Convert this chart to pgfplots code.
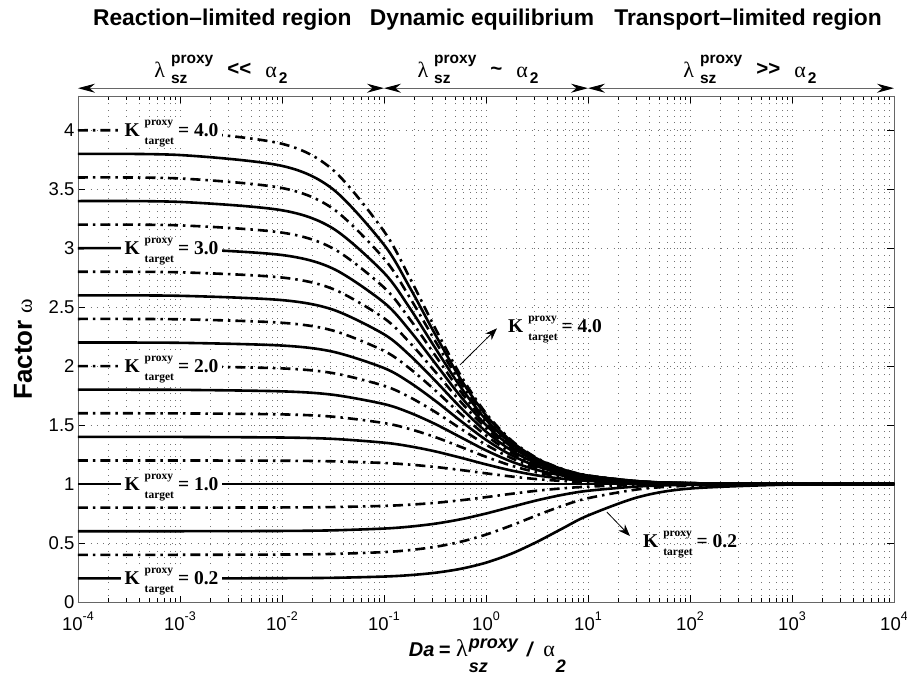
\documentclass[border=0pt]{standalone}
\usepackage{fontspec}
\setmainfont{Liberation Sans}
\newfontfamily\tnr{Liberation Serif}
\usepackage{pgfplots}
\pgfplotsset{compat=1.18}
\usepackage{pgfplotstable}
\usetikzlibrary{arrows.meta}

\pgfplotstableread{
D k02 k04 k06 k08 k10 k12 k14 k16 k18 k20 k22 k24 k26 k28 k30 k32 k34 k36 k38 k40
0.0001 0.2000 0.4000 0.6000 0.8000 1 1.2000 1.3999 1.5999 1.7999 1.9998 2.1997 2.3997 2.5996 2.7995 2.9994 3.1993 3.3992 3.5991 3.7989 3.9988
0.001 0.2002 0.4002 0.6002 0.8002 1 1.1998 1.3994 1.5990 1.7986 1.9980 2.1974 2.3966 2.5959 2.7950 2.9940 3.1930 3.3919 3.5907 3.7894 3.9880
0.01 0.2016 0.4024 0.6024 0.8016 1 1.1976 1.3945 1.5906 1.7859 1.9804 2.1742 2.3672 2.5595 2.7510 2.9417 3.1318 3.3211 3.5097 3.6975 3.8846
0.031623 0.2050 0.4075 0.6075 0.8049 1 1.1927 1.3830 1.5711 1.7569 1.9405 2.1219 2.3012 2.4784 2.6536 2.8267 2.9978 3.1670 3.3343 3.4996 3.6631
0.1 0.2157 0.4231 0.6226 0.8148 1 1.1786 1.3509 1.5172 1.6780 1.8333 1.9836 2.1290 2.2698 2.4063 2.5385 2.6667 2.7910 2.9118 3.0290 3.1429
0.17783 0.2275 0.4398 0.6386 0.8249 1 1.1648 1.3203 1.4671 1.6060 1.7377 1.8626 1.9812 2.0941 2.2017 2.3042 2.4021 2.4957 2.5852 2.6709 2.7530
0.31623 0.2476 0.4674 0.6638 0.8404 1 1.1450 1.2773 1.3984 1.5098 1.6126 1.7077 1.7959 1.8781 1.9547 2.0263 2.0935 2.1565 2.2159 2.2718 2.3246
0.56234 0.2809 0.5102 0.7009 0.8621 1 1.1194 1.2238 1.3158 1.3976 1.4707 1.5364 1.5958 1.6499 1.6992 1.7443 1.7859 1.8242 1.8597 1.8926 1.9233
1 0.3333 0.5714 0.7500 0.8889 1 1.0909 1.1667 1.2308 1.2857 1.3333 1.3750 1.4118 1.4444 1.4737 1.5000 1.5238 1.5455 1.5652 1.5833 1.6000
1.7783 0.4099 0.6494 0.8065 0.9174 1 1.0638 1.1146 1.1560 1.1904 1.2195 1.2443 1.2658 1.2845 1.3010 1.3157 1.3288 1.3406 1.3513 1.3609 1.3698
3.1623 0.5099 0.7351 0.8619 0.9433 1 1.0417 1.0737 1.0990 1.1195 1.1365 1.1508 1.1630 1.1735 1.1827 1.1907 1.1979 1.2042 1.2099 1.2151 1.2198
5.6234 0.6235 0.8153 0.9086 0.9636 1 1.0258 1.0451 1.0600 1.0719 1.0817 1.0897 1.0966 1.1024 1.1075 1.1119 1.1158 1.1193 1.1224 1.1252 1.1277
10 0.7333 0.8800 0.9429 0.9778 1 1.0154 1.0267 1.0353 1.0421 1.0476 1.0522 1.0560 1.0593 1.0621 1.0645 1.0667 1.0686 1.0703 1.0718 1.0732
31.623 0.8908 0.9560 0.9800 0.9924 1 1.0051 1.0088 1.0116 1.0138 1.0156 1.0170 1.0182 1.0192 1.0201 1.0209 1.0215 1.0221 1.0226 1.0231 1.0235
100 0.9619 0.9854 0.9934 0.9975 1 1.0017 1.0028 1.0037 1.0044 1.0050 1.0054 1.0058 1.0061 1.0064 1.0066 1.0069 1.0070 1.0072 1.0074 1.0075
1000 0.9960 0.9985 0.9993 0.9998 1 1.0002 1.0003 1.0004 1.0004 1.0005 1.0005 1.0006 1.0006 1.0006 1.0007 1.0007 1.0007 1.0007 1.0007 1.0008
10000 0.9996 0.9998 0.9999 1.0000 1 1.0000 1.0000 1.0000 1.0000 1.0000 1.0001 1.0001 1.0001 1.0001 1.0001 1.0001 1.0001 1.0001 1.0001 1.0001
}\curves

\newcommand{\supsub}[4]{%
  \begingroup
  \setbox0=\hbox{#3}\setbox2=\hbox{#4}%
  \dimen0=\wd0 \ifdim\wd2>\dimen0 \dimen0=\wd2 \fi
  \hbox to \dimen0{\rlap{\raise#1\box0}\rlap{\lower#2\box2}\hfil}%
  \endgroup}
\newcommand{\Klab}[1]{{\tnr\bfseries\fontsize{19.5}{22}\selectfont K\hspace{5pt}\supsub{11pt}{8pt}{\fontsize{11.5}{13}\selectfont proxy}{\fontsize{11.5}{13}\selectfont target}\hspace{4pt}= #1}}
\newcommand{\lamsz}{{\tnr\fontsize{22}{24}\selectfont λ}\hspace{6pt}\supsub{14pt}{6pt}{\bfseries\fontsize{15.5}{17}\selectfont proxy}{\bfseries\fontsize{15.5}{17}\selectfont sz}}
\newcommand{\alphtwo}{{\tnr\fontsize{22}{24}\selectfont α}\hspace{2pt}\raisebox{-6pt}{\bfseries\fontsize{15.5}{17}\selectfont 2}}
\newcommand{\rel}[1]{\hspace{14pt}\raisebox{1.5pt}{\bfseries\fontsize{20.5}{22}\selectfont #1}\hspace{14pt}}
\newcommand{\tp}[1]{10\raisebox{10pt}{\fontsize{12.5}{13}\selectfont #1}}

\pgfplotsset{
  solidc/.style={black, line width=2.6pt, smooth, line join=round},
  dashc/.style={solidc, dash pattern=on 10pt off 5pt on 2.5pt off 5pt},
}
\tikzset{
  klab/.style={anchor=base west, yshift=-6.5pt, fill=white, inner xsep=4pt, inner ysep=1pt},
  regarrow/.style={black!60, line width=1pt, {Stealth[black,length=17pt,width=9pt]}-{Stealth[black,length=17pt,width=9pt]}},
  ttl/.style={inner sep=0pt, font=\bfseries\fontsize{22.8}{26}\selectfont},
}

\begin{document}
\begin{tikzpicture}
\begin{axis}[
  scale only axis, width=816pt, height=506pt,
  xmode=log, xmin=1e-4, xmax=1e4, ymin=0, ymax=4.29,
  xtick={1e-4,1e-3,1e-2,1e-1,1,10,100,1000,10000},
  xticklabels={\tp{-4},\tp{-3},\tp{-2},\tp{-1},\tp{0},\tp{1},\tp{2},\tp{3},\tp{4}},
  ytick={0,0.5,1,1.5,2,2.5,3,3.5,4},
  yticklabels={0,0.5,1,1.5,2,2.5,3,3.5,4},
  tick align=inside, major tick length=7pt, minor tick length=4pt,
  tick pos=both, xticklabel pos=lower, yticklabel pos=left,
  xmajorgrids=true, xminorgrids=true, ymajorgrids=true,
  major grid style={black!55, line width=0.6pt, dash pattern=on 0.8pt off 5.5pt},
  minor grid style={black!55, line width=0.6pt, dash pattern=on 0.8pt off 5.5pt},
  axis line style={black!60, line width=0.8pt},
  every tick/.style={black, line width=0.8pt},
  tick label style={font=\fontsize{18.5}{21}\selectfont},
  xticklabel style={anchor=base, yshift=-28pt},
  clip=false,
]
\addplot[solidc] table[x=D, y=k02] {\curves};
\addplot[dashc]  table[x=D, y=k04] {\curves};
\addplot[solidc] table[x=D, y=k06] {\curves};
\addplot[dashc]  table[x=D, y=k08] {\curves};
\addplot[solidc] table[x=D, y=k10] {\curves};
\addplot[dashc]  table[x=D, y=k12] {\curves};
\addplot[solidc] table[x=D, y=k14] {\curves};
\addplot[dashc]  table[x=D, y=k16] {\curves};
\addplot[solidc] table[x=D, y=k18] {\curves};
\addplot[dashc]  table[x=D, y=k20] {\curves};
\addplot[solidc] table[x=D, y=k22] {\curves};
\addplot[dashc]  table[x=D, y=k24] {\curves};
\addplot[solidc] table[x=D, y=k26] {\curves};
\addplot[dashc]  table[x=D, y=k28] {\curves};
\addplot[solidc] table[x=D, y=k30] {\curves};
\addplot[dashc]  table[x=D, y=k32] {\curves};
\addplot[solidc] table[x=D, y=k34] {\curves};
\addplot[dashc]  table[x=D, y=k36] {\curves};
\addplot[solidc] table[x=D, y=k38] {\curves};
\addplot[dashc]  table[x=D, y=k40] {\curves};

% curve labels on the left
\node[klab] at (axis cs:2.6e-4,4) {\Klab{4.0}};
\node[klab] at (axis cs:2.6e-4,3) {\Klab{3.0}};
\node[klab] at (axis cs:2.6e-4,2) {\Klab{2.0}};
\node[klab] at (axis cs:2.6e-4,1) {\Klab{1.0}};
\node[klab] at (axis cs:2.6e-4,0.2) {\Klab{0.2}};

% annotations with arrows
\draw[black, line width=0.8pt, -{Stealth[length=12pt,width=9pt]}] (axis cs:0.556,2.01) -- (axis cs:1.28,2.32);
\node[anchor=base west, inner sep=0pt] at (axis cs:1.64,2.288) {\Klab{4.0}};
\draw[black, line width=0.8pt, -{Stealth[length=12pt,width=9pt]}] (axis cs:15.3,0.763) -- (axis cs:25.8,0.559);
\node[anchor=base west, inner sep=0pt] at (axis cs:34.6,0.466) {\Klab{0.2}};

% region arrows
\draw[regarrow] (axis cs:1e-4,4.356) -- (axis cs:0.1,4.356);
\draw[regarrow] (axis cs:0.1,4.356) -- (axis cs:10,4.356);
\draw[regarrow] (axis cs:10,4.356) -- (axis cs:1e4,4.356);

\node[anchor=base, inner sep=0pt] at (axis cs:2.52e-3,4.449) {\lamsz\rel{<\kern0pt<}\alphtwo};
\node[anchor=base, inner sep=0pt] at (axis cs:0.835,4.449) {\lamsz\rel{\textasciitilde}\alphtwo};
\node[anchor=base, inner sep=0pt] at (axis cs:387,4.449) {\lamsz\rel{>\kern0pt>}\alphtwo};

% titles
\node[ttl, anchor=base west] at (axis cs:1.40e-4,4.89) {Reaction–limited region};
\node[ttl, anchor=base] at (axis cs:0.914,4.89) {Dynamic equilibrium};
\node[ttl, anchor=base east] at (axis cs:7621,4.89) {Transport–limited region};

% axis labels
\node[rotate=90, anchor=base, inner sep=0pt] at ([xshift=-46pt]axis cs:1e-4,2.144) {\bfseries\fontsize{26}{28}\selectfont Factor {\tnr\mdseries\fontsize{22}{24}\selectfont ω}};
\node[anchor=base, inner sep=0pt] at ([yshift=-54pt]axis cs:1.034,0) {\bfseries\itshape\fontsize{20}{22}\selectfont Da\hspace{4pt}=\hspace{6pt}{\tnr\mdseries\upshape\fontsize{24}{26}\selectfont λ}\hspace{1pt}\supsub{8pt}{16pt}{\fontsize{18}{20}\selectfont proxy}{\fontsize{18}{20}\selectfont sz}\hspace{9pt}/\hspace{11pt}{\tnr\mdseries\upshape\fontsize{22}{24}\selectfont α}\hspace{1pt}\raisebox{-16pt}{\fontsize{18}{20}\selectfont 2}};

\coordinate (bl) at (rel axis cs:0,0);
\coordinate (tr) at (rel axis cs:1,1);
\end{axis}
\pgfresetboundingbox
\path ([shift={(-78pt,-75pt)}]bl) rectangle ([shift={(13pt,96pt)}]tr);
\end{tikzpicture}
\end{document}
